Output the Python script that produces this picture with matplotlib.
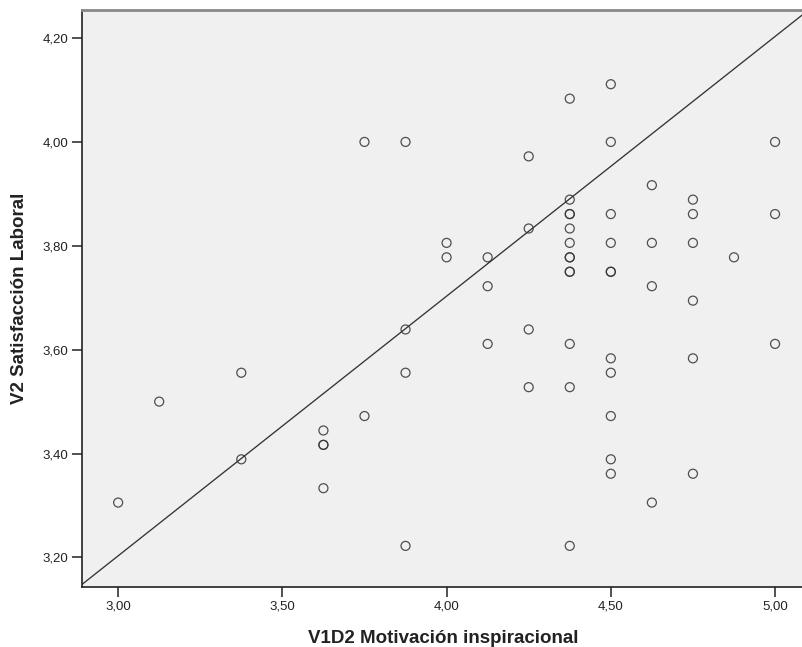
import numpy as np
import matplotlib
matplotlib.use('Agg')
import matplotlib.pyplot as plt
from matplotlib.ticker import FuncFormatter

plt.rcParams['font.family'] = ['Liberation Sans', 'DejaVu Sans']

# V1D2 Motivación inspiracional (x) vs V2 Satisfacción Laboral (y)
x_vals = [3.000,
          3.125,
          3.375, 3.375,
          3.625, 3.625, 3.625, 3.625,
          3.750, 3.750,
          3.875, 3.875, 3.875, 3.875,
          4.000, 4.000,
          4.125, 4.125, 4.125,
          4.250, 4.250, 4.250, 4.250,
          4.375, 4.375, 4.375, 4.375, 4.375, 4.375, 4.375, 4.375, 4.375, 4.375, 4.375, 4.375, 4.375,
          4.500, 4.500, 4.500, 4.500, 4.500, 4.500, 4.500, 4.500, 4.500, 4.500, 4.500,
          4.625, 4.625, 4.625, 4.625,
          4.750, 4.750, 4.750, 4.750, 4.750, 4.750,
          4.875,
          5.000, 5.000, 5.000]
y_vals = [3.3056,
          3.5000,
          3.5556, 3.3889,
          3.4444, 3.4167, 3.4167, 3.3333,
          4.0000, 3.4722,
          4.0000, 3.6389, 3.5556, 3.2222,
          3.8056, 3.7778,
          3.7778, 3.7222, 3.6111,
          3.9722, 3.8333, 3.6389, 3.5278,
          4.0833, 3.8889, 3.8611, 3.8611, 3.8333, 3.8056, 3.7778, 3.7778, 3.7500, 3.7500, 3.6111, 3.5278, 3.2222,
          4.1111, 4.0000, 3.8611, 3.8056, 3.7500, 3.7500, 3.5833, 3.5556, 3.4722, 3.3889, 3.3611,
          3.9167, 3.8056, 3.7222, 3.3056,
          3.8889, 3.8611, 3.8056, 3.6944, 3.5833, 3.3611,
          3.7778,
          4.0000, 3.8611, 3.6111]

# fit line
fit_slope = 0.5
fit_intercept = 1.7030

x_ticks = [3.0, 3.5, 4.0, 4.5, 5.0]
y_ticks = [3.2, 3.4, 3.6, 3.8, 4.0, 4.2]

fig = plt.figure(figsize=(8.03, 6.47), dpi=100)
ax = fig.add_axes([82/803, 1 - 586.5/647, 1 - 82/803 + 0.002, (586.5 - 10)/647])
ax.set_facecolor('#f0f0f0')

ax.scatter(x_vals, y_vals, s=42, facecolors='none', edgecolors='#333333',
           linewidths=0.9, alpha=0.85, zorder=3)

xl = (2.89, 5.09)
yl = (3.144, 4.254)
lx = np.array(xl)
ax.plot(lx, fit_slope * lx + fit_intercept, color='#333333', lw=0.95, zorder=2)

ax.set_xlim(xl)
ax.set_ylim(yl)
ax.set_xticks(x_ticks)
ax.set_yticks(y_ticks)
fmt = FuncFormatter(lambda v, p: ('%.2f' % v).replace('.', ','))
ax.xaxis.set_major_formatter(fmt)
ax.yaxis.set_major_formatter(fmt)
ax.tick_params(direction='out', length=7, width=1.1, color='#222222',
               labelsize=9.5, labelcolor='#222222', pad=3)

ax.spines['right'].set_visible(False)
ax.spines['top'].set_color('#888888')
ax.spines['top'].set_linewidth(2)
for s in ['left', 'bottom']:
    ax.spines[s].set_color('#222222')
    ax.spines[s].set_linewidth(1.2)

ax.set_xlabel('V1D2 Motivación inspiracional', fontsize=13.5, fontweight='bold',
              color='#222222', labelpad=13)
ax.set_ylabel('V2 Satisfacción Laboral', fontsize=13.5, fontweight='bold',
              color='#222222', labelpad=10)

fig.savefig('out.png', dpi=100)
